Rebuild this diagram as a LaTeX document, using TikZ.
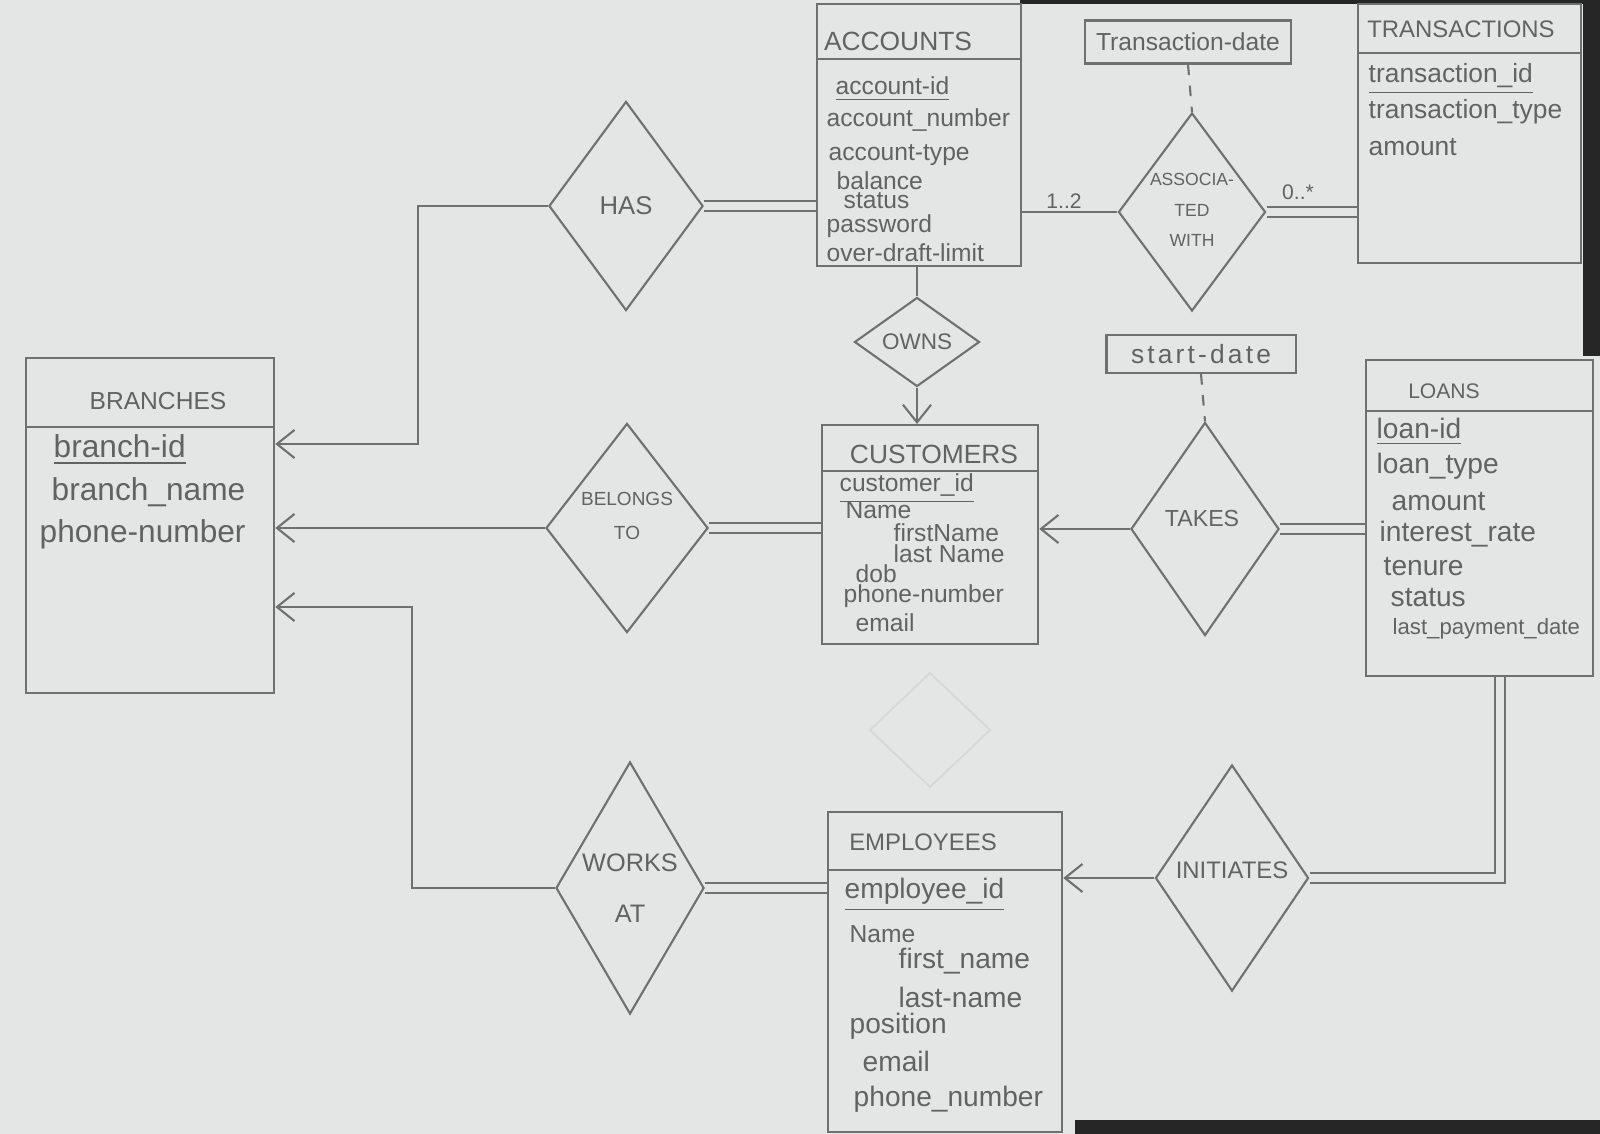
\documentclass[tikz,border=0pt]{standalone}
\usepackage{fontspec}
\setmainfont{Liberation Sans}
\newfontfamily\widefont[LetterSpace=12]{Liberation Sans}
\usetikzlibrary{shapes.geometric,arrows.meta,calc}
\definecolor{paper}{RGB}{228,230,230}
\definecolor{pencil}{RGB}{112,112,112}
\definecolor{ink}{RGB}{98,98,98}
\definecolor{faint}{RGB}{214,216,216}
\newcommand\myfs[1]{\fontsize{#1}{#1}\selectfont}
\tikzset{
 ent/.style={draw=pencil, line width=0.6pt, rectangle, inner sep=0pt, anchor=north west},
 rel/.style={diamond, draw=pencil, line width=0.6pt, inner sep=0pt},
 rlbl/.style={text=ink, inner sep=0pt, align=center},
 attbox/.style={rectangle, draw=pencil, line width=0.6pt, inner sep=0pt, text=ink},
 ttl/.style={text=ink, inner sep=0pt},
 att/.style={anchor=west, text=ink, inner sep=0pt},
 conn/.style={draw=pencil, line width=0.6pt},
 dbl/.style={draw=pencil, line width=0.5pt, double=paper, double distance=2.2pt},
 arr/.style={-{Straight Barb[length=5pt,width=8pt]}},
 card/.style={text=ink, inner sep=0pt, font=\myfs{6}},
}
\begin{document}
\begin{tikzpicture}[x=0.01cm,y=-0.01cm]
\fill[paper] (0,0) rectangle (1600,1134);
\useasboundingbox (0,0) rectangle (1600,1134);
% photo edges
\fill[black!85] (1020,0) rectangle (1600,4);
\fill[black!85] (1583,0) rectangle (1600,356);
\fill[black!85] (1075,1120) rectangle (1600,1134);

% faint erased diamond
\draw[faint, line width=0.5pt] (930,673) -- (990,730) -- (930,787) -- (870,730) -- cycle;

% ---------- entities ----------
\node[ent, minimum width=2.04cm, minimum height=2.62cm] (acc) at (816,3) {};
\draw[conn] (acc.west |- 0,59) -- (acc.east |- 0,59);
\node[ttl, font=\myfs{7.5}] (accT) at (898,41) {ACCOUNTS};
\begin{scope}[every node/.style={att, font=\myfs{7}}]
\node (acc1) at (835,89) {\underline{account-id}};
\node (acc2) at (826,120) {account\_number};
\node (acc3) at (828,155) {account-type};
\node (acc4) at (836,181) {balance};
\node (acc5) at (843,201) {status};
\node (acc6) at (826,226) {password};
\node (acc7) at (826,253) {over-draft-limit};
\end{scope}

\node[ent, minimum width=2.23cm, minimum height=2.59cm] (trans) at (1357,3) {};
\draw[conn] (trans.west |- 0,53) -- (trans.east |- 0,53);
\node[ttl, font=\myfs{6.8}] (transT) at (1461,29) {TRANSACTIONS};
\begin{scope}[every node/.style={att, font=\myfs{7.5}}]
\node (tr1) at (1368,79) {\underline{transaction\_id}};
\node (tr2) at (1368,112) {transaction\_type};
\node (tr3) at (1368,147) {amount};
\end{scope}

\node[ent, minimum width=2.48cm, minimum height=3.35cm] (br) at (25,357) {};
\draw[conn] (br.west |- 0,427) -- (br.east |- 0,427);
\node[ttl, font=\myfs{7}] (brT) at (158,401) {BRANCHES};
\begin{scope}[every node/.style={att, font=\myfs{9}}]
\node (br1) at (53,450) {\underline{branch-id}};
\node (br2) at (51,492) {branch\_name};
\node (br3) at (39,534) {phone-number};
\end{scope}

\node[ent, minimum width=2.16cm, minimum height=2.19cm] (cust) at (821,424) {};
\draw[conn] (cust.west |- 0,471) -- (cust.east |- 0,471);
\node[ttl, font=\myfs{7.5}] (custT) at (934,454) {CUSTOMERS};
\begin{scope}[every node/.style={att, font=\myfs{7}}]
\node (cu1) at (839,489) {\underline{customer\_id}};
\node (cu2) at (845,510) {Name};
\node (cu3) at (893,533) {firstName};
\node (cu4) at (893,554) {last Name};
\node (cu5) at (855,574) {dob};
\node (cu6) at (843,596) {phone-number};
\node (cu7) at (855,623) {email};
\end{scope}

\node[ent, minimum width=2.27cm, minimum height=3.16cm] (loans) at (1365,359) {};
\draw[conn] (loans.west |- 0,411) -- (loans.east |- 0,411);
\node[ttl, font=\myfs{6}] (loansT) at (1444,391) {LOANS};
\begin{scope}[every node/.style={att, font=\myfs{8}}]
\node (lo1) at (1376,432) {\underline{loan-id}};
\node (lo2) at (1376,466) {loan\_type};
\node (lo3) at (1391,502) {amount};
\node (lo4) at (1379,534) {interest\_rate};
\node (lo5) at (1383,567) {tenure};
\node (lo6) at (1390,598) {status};
\node[font=\myfs{6.3}] (lo7) at (1392,629) {last\_payment\_date};
\end{scope}

\node[ent, minimum width=2.34cm, minimum height=3.20cm] (emp) at (827,811) {};
\draw[conn] (emp.west |- 0,870) -- (emp.east |- 0,870);
\node[ttl, font=\myfs{6.8}] (empT) at (923,842) {EMPLOYEES};
\begin{scope}[every node/.style={att, font=\myfs{8}}]
\node (em1) at (844,895) {\underline{employee\_id}};
\node[font=\myfs{7}] (em2) at (849,934) {Name};
\node (em3) at (898,961) {first\_name};
\node (em4) at (898,997) {last-name};
\node (em5) at (849,1026) {position};
\node (em6) at (862,1061) {email};
\node (em7) at (853,1099) {phone\_number};
\end{scope}

% ---------- attribute boxes ----------
\node[attbox, minimum width=2.06cm, minimum height=0.43cm, font=\myfs{7}] (tdate) at (1188,42) {Transaction-date};
\node[attbox, minimum width=1.89cm, minimum height=0.38cm, font=\widefont\myfs{7.5}] (sdate) at (1201,354) {start-date};

% ---------- relationships ----------
\node[rel, minimum width=1.54cm, minimum height=2.09cm] (has) at (626,206) {};
\node[rlbl, font=\myfs{7.3}] (hasL) at (has) {HAS};
\node[rel, minimum width=1.25cm, minimum height=0.89cm] (owns) at (917,342) {};
\node[rlbl, font=\myfs{6.4}] (ownsL) at (owns) {OWNS};
\node[rel, minimum width=1.47cm, minimum height=1.98cm] (assoc) at (1192,212) {};
\node[rlbl, font=\fontsize{5}{8.6}\selectfont] (assocL) at ($(assoc)+(0,-2)$) {ASSOCIA-\\TED\\WITH};
\node[rel, minimum width=1.48cm, minimum height=2.13cm] (takes) at (1205,529) {};
\node[rlbl, font=\myfs{6.6}] (takesL) at ($(takes)+(-3,-10)$) {TAKES};
\node[rel, minimum width=1.62cm, minimum height=2.09cm] (bel) at (627,528) {};
\node[rlbl, font=\fontsize{5.4}{9.6}\selectfont] (belL) at ($(bel)+(0,-12)$) {BELONGS\\TO};
\node[rel, minimum width=1.48cm, minimum height=2.52cm] (works) at (630,888) {};
\node[rlbl, font=\fontsize{7.2}{14.6}\selectfont] (worksL) at ($(works)+(0,0)$) {WORKS\\AT};
\node[rel, minimum width=1.53cm, minimum height=2.26cm] (init) at (1232,878) {};
\node[rlbl, font=\myfs{6.8}] (initL) at ($(init)+(0,-8)$) {INITIATES};

% ---------- connectors ----------
\draw[dbl] (has.east) -- (has.east -| acc.west);
\draw[conn, arr] (has.west) -- ++(-130,0) |- (br.east |- 0,444);
\draw[conn] (owns.north |- acc.south) -- (owns.north);
\draw[conn, arr] (owns.south) -- (owns.south |- cust.north);
\draw[conn] (assoc.west -| acc.east) -- (assoc.west);
\draw[dbl] (assoc.east) -- (assoc.east -| trans.west);
\draw[conn, dashed] (tdate.south) -- (assoc.north);
\draw[conn, dashed] (sdate.south) -- (takes.north);
\draw[conn, arr] (takes.west) -- (takes.west -| cust.east);
\draw[dbl] (takes.east) -- (takes.east -| loans.west);
\draw[conn, arr] (bel.west) -- (bel.west -| br.east);
\draw[dbl] (bel.east) -- (bel.east -| cust.west);
\draw[conn, arr] (works.west) -- ++(-143,0) |- (br.east |- 0,607);
\draw[dbl] (works.east) -- (works.east -| emp.west);
\draw[conn, arr] (init.west) -- (init.west -| emp.east);
\draw[dbl] (init.east) -| (loans.south -| 1500,0);

% cardinalities
\node[card] (c12) at (1064,201) {1..2};
\node[card] (c0s) at (1298,192) {0..*};
\end{tikzpicture}
\end{document}
